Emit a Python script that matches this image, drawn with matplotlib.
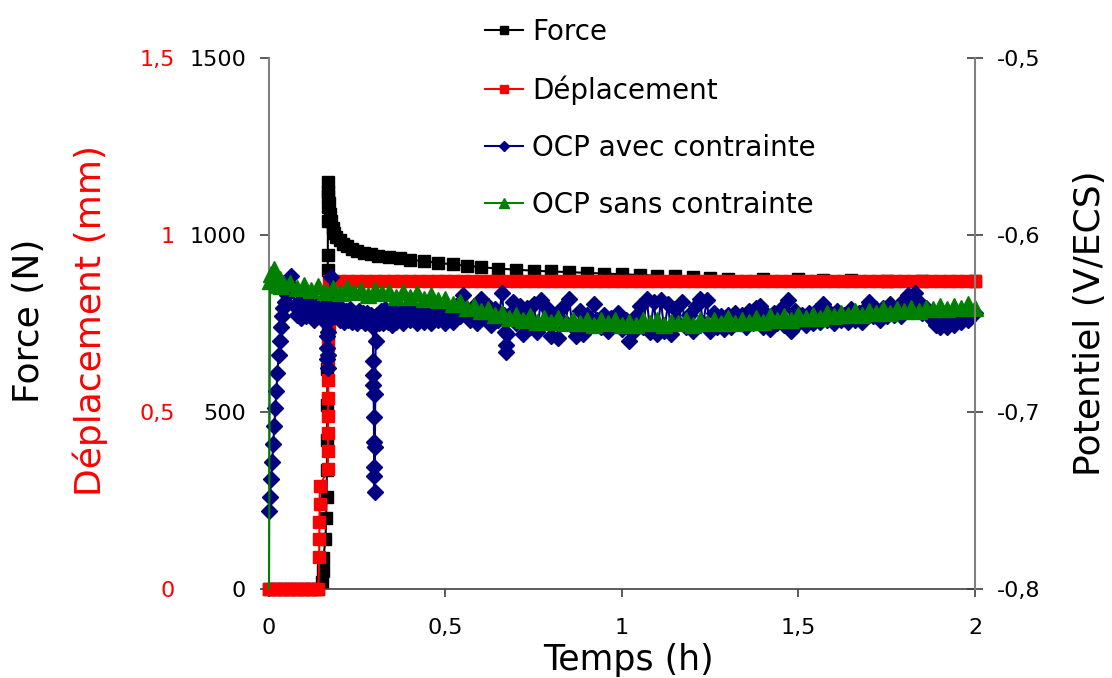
import matplotlib
matplotlib.use('Agg')
import matplotlib.pyplot as plt

# --- data ---
# Force (N) vs time (h)
force_t = [0.00, 0.02, 0.04, 0.06, 0.08, 0.10, 0.12, 0.14, 0.150, 0.152, 0.154,
           0.160, 0.162, 0.163, 0.164, 0.1645, 0.165, 0.1655, 0.166, 0.1662, 0.1664,
           0.1666, 0.1668, 0.167, 0.1672, 0.1674, 0.168, 0.170, 0.172, 0.175, 0.180,
           0.185, 0.19, 0.20, 0.21, 0.22, 0.235, 0.25, 0.27, 0.29, 0.31, 0.34, 0.37,
           0.40, 0.44, 0.48, 0.52, 0.56, 0.60, 0.65, 0.70, 0.75, 0.80, 0.85, 0.90,
           0.95, 1.00, 1.05, 1.10, 1.15, 1.20, 1.25, 1.30, 1.40, 1.50, 1.57, 1.65,
           1.75, 1.85, 2.00]
force_n = [0, 0, 0, 0, 0, 0, 0, 0, 20, 50, 88,
           140, 200, 260, 336, 420, 520, 620, 720, 820, 900,
           943, 1040, 1080, 1110, 1150, 1120, 1090, 1060, 1040, 1020,
           1005, 995, 985, 975, 968, 960, 955, 950, 946, 942, 938, 934,
           930, 926, 921, 917, 913, 909, 905, 902, 899, 897, 895, 893,
           891, 889, 887, 885, 883, 881, 879, 877, 876, 875, 874, 872,
           871, 871, 870]

# Displacement (mm) vs time (h)
depl_t = [0.00, 0.01, 0.02, 0.03, 0.04, 0.05, 0.06, 0.07, 0.08, 0.09, 0.10,
          0.11, 0.12, 0.13, 0.14, 0.142, 0.1425, 0.143, 0.1435, 0.144,
          0.167, 0.1672, 0.1674, 0.1676, 0.1678, 0.168, 0.1682, 0.1684, 0.1686,
          0.1688, 0.169, 0.1692,
          0.175, 0.200, 0.225, 0.250, 0.275, 0.300, 0.325, 0.350, 0.375, 0.400,
          0.425, 0.450, 0.475, 0.500, 0.525, 0.550, 0.575, 0.600, 0.625, 0.650,
          0.675, 0.700, 0.725, 0.750, 0.775, 0.800, 0.825, 0.850, 0.875, 0.900,
          0.925, 0.950, 0.975, 1.000, 1.025, 1.050, 1.075, 1.100, 1.125, 1.150,
          1.175, 1.200, 1.225, 1.250, 1.275, 1.300, 1.325, 1.350, 1.375, 1.400,
          1.425, 1.450, 1.475, 1.500, 1.525, 1.550, 1.575, 1.600, 1.625, 1.650,
          1.675, 1.700, 1.725, 1.750, 1.775, 1.800, 1.825, 1.850, 1.875, 1.900,
          1.925, 1.950, 1.975, 2.000]
depl_mm = [0, 0, 0, 0, 0, 0, 0, 0, 0, 0, 0,
           0, 0, 0, 0, 0.09, 0.14, 0.19, 0.24, 0.29,
           0.34, 0.39, 0.44, 0.49, 0.54, 0.59, 0.64, 0.69, 0.74,
           0.79, 0.84, 0.87,
           0.87, 0.87, 0.87, 0.87, 0.87, 0.87, 0.87, 0.87, 0.87, 0.87,
           0.87, 0.87, 0.87, 0.87, 0.87, 0.87, 0.87, 0.87, 0.87, 0.87,
           0.87, 0.87, 0.87, 0.87, 0.87, 0.87, 0.87, 0.87, 0.87, 0.87,
           0.87, 0.87, 0.87, 0.87, 0.87, 0.87, 0.87, 0.87, 0.87, 0.87,
           0.87, 0.87, 0.87, 0.87, 0.87, 0.87, 0.87, 0.87, 0.87, 0.87,
           0.87, 0.87, 0.87, 0.87, 0.87, 0.87, 0.87, 0.87, 0.87, 0.87,
           0.87, 0.87, 0.87, 0.87, 0.87, 0.87, 0.87, 0.87, 0.87, 0.87,
           0.87, 0.87, 0.87, 0.87]

# OCP avec contrainte (V/ECS)
ocp_avec_t = [0.000, 0.003, 0.006, 0.009, 0.012, 0.015, 0.018, 0.021, 0.024, 0.027,
              0.030, 0.033, 0.036, 0.040, 0.045, 0.050, 0.056, 0.062, 0.068, 0.074,
              0.080, 0.086, 0.092, 0.098, 0.104, 0.110, 0.116, 0.122, 0.128, 0.134,
              0.140, 0.146, 0.152, 0.158, 0.162, 0.163, 0.164, 0.165, 0.166, 0.167,
              0.168, 0.170, 0.176, 0.182, 0.188, 0.194, 0.200, 0.206, 0.212, 0.218,
              0.224, 0.230, 0.236, 0.242, 0.248, 0.254, 0.260, 0.266, 0.272, 0.278,
              0.284, 0.290, 0.294, 0.295, 0.2955, 0.296, 0.2965, 0.297, 0.2975, 0.298,
              0.2985, 0.299, 0.300, 0.301, 0.302, 0.306, 0.312, 0.318, 0.324, 0.330,
              0.336, 0.342, 0.348, 0.354, 0.360, 0.370, 0.380, 0.390, 0.400, 0.410,
              0.420, 0.430, 0.440, 0.450, 0.460, 0.470, 0.480, 0.490, 0.500, 0.510,
              0.520, 0.530, 0.540, 0.550, 0.560, 0.570, 0.580, 0.590, 0.600, 0.610,
              0.620, 0.630, 0.640, 0.650, 0.660, 0.665, 0.668, 0.670, 0.672, 0.675,
              0.680, 0.690, 0.700, 0.710, 0.720, 0.730, 0.740, 0.750, 0.760, 0.770,
              0.780, 0.790, 0.800, 0.810, 0.820, 0.830, 0.840, 0.850, 0.860, 0.870,
              0.880, 0.890, 0.900, 0.910, 0.920, 0.930, 0.940, 0.950, 0.960, 0.970,
              0.980, 0.990, 1.000, 1.010, 1.020, 1.030, 1.040, 1.050, 1.060, 1.070,
              1.080, 1.090, 1.100, 1.110, 1.120, 1.130, 1.140, 1.150, 1.160, 1.170,
              1.180, 1.190, 1.200, 1.210, 1.220, 1.230, 1.240, 1.250, 1.260, 1.270,
              1.280, 1.290, 1.300, 1.310, 1.320, 1.330, 1.340, 1.350, 1.360, 1.370,
              1.380, 1.390, 1.400, 1.410, 1.420, 1.430, 1.440, 1.450, 1.460, 1.470,
              1.480, 1.490, 1.500, 1.510, 1.520, 1.530, 1.540, 1.550, 1.560, 1.570,
              1.580, 1.590, 1.600, 1.610, 1.620, 1.630, 1.640, 1.650, 1.660, 1.670,
              1.680, 1.690, 1.700, 1.710, 1.720, 1.730, 1.740, 1.750, 1.760, 1.770,
              1.780, 1.790, 1.800, 1.810, 1.820, 1.830, 1.840, 1.850, 1.860, 1.870,
              1.880, 1.890, 1.900, 1.910, 1.920, 1.930, 1.940, 1.950, 1.960, 1.970,
              1.980, 1.990, 2.000]
ocp_avec_v = [-0.756, -0.748, -0.738, -0.728, -0.718, -0.708, -0.698, -0.688, -0.678, -0.668,
              -0.660, -0.652, -0.646, -0.641, -0.638, -0.634, -0.628, -0.623, -0.630, -0.640,
              -0.645, -0.638, -0.647, -0.640, -0.646, -0.638, -0.645, -0.641, -0.648, -0.640,
              -0.646, -0.642, -0.647, -0.641, -0.650, -0.657, -0.664, -0.670, -0.675, -0.668,
              -0.655, -0.640, -0.624, -0.638, -0.646, -0.641, -0.648, -0.642, -0.649, -0.643,
              -0.648, -0.642, -0.649, -0.644, -0.650, -0.643, -0.648, -0.644, -0.650, -0.644,
              -0.649, -0.645, -0.652, -0.671, -0.679, -0.685, -0.690, -0.703, -0.717, -0.731,
              -0.736, -0.745, -0.720, -0.690, -0.660, -0.645, -0.650, -0.643, -0.650, -0.642,
              -0.649, -0.644, -0.651, -0.643, -0.649, -0.644, -0.650, -0.642, -0.648, -0.643,
              -0.650, -0.644, -0.649, -0.642, -0.650, -0.641, -0.648, -0.645, -0.650, -0.642,
              -0.649, -0.640, -0.646, -0.634, -0.645, -0.648, -0.640, -0.650, -0.636, -0.646,
              -0.640, -0.651, -0.642, -0.648, -0.633, -0.645, -0.655, -0.662, -0.666, -0.656,
              -0.645, -0.638, -0.650, -0.640, -0.656, -0.641, -0.652, -0.639, -0.655, -0.637,
              -0.650, -0.642, -0.657, -0.645, -0.658, -0.641, -0.650, -0.636, -0.652, -0.657,
              -0.643, -0.656, -0.645, -0.651, -0.639, -0.648, -0.652, -0.645, -0.654, -0.647,
              -0.651, -0.644, -0.653, -0.648, -0.660, -0.655, -0.646, -0.640, -0.652, -0.636,
              -0.655, -0.638, -0.656, -0.637, -0.654, -0.639, -0.656, -0.642, -0.650, -0.638,
              -0.652, -0.645, -0.654, -0.640, -0.636, -0.650, -0.637, -0.654, -0.644, -0.652,
              -0.646, -0.653, -0.645, -0.652, -0.644, -0.650, -0.645, -0.652, -0.643, -0.650,
              -0.641, -0.640, -0.652, -0.645, -0.653, -0.644, -0.650, -0.642, -0.651, -0.637,
              -0.654, -0.643, -0.650, -0.645, -0.651, -0.644, -0.650, -0.643, -0.649, -0.639,
              -0.648, -0.644, -0.650, -0.643, -0.648, -0.645, -0.649, -0.642, -0.648, -0.644,
              -0.649, -0.641, -0.638, -0.646, -0.642, -0.648, -0.641, -0.646, -0.639, -0.645,
              -0.641, -0.646, -0.637, -0.634, -0.640, -0.633, -0.638, -0.644, -0.641, -0.646,
              -0.648, -0.651, -0.652, -0.650, -0.652, -0.649, -0.651, -0.647, -0.649, -0.646,
              -0.648, -0.645, -0.644]

# OCP sans contrainte (V/ECS)
ocp_sans_t = [0.000, 0.003, 0.006, 0.010, 0.014, 0.018, 0.022, 0.026, 0.030, 0.035, 0.040,
              0.06, 0.08, 0.10, 0.12, 0.14, 0.16, 0.18, 0.20, 0.22, 0.24, 0.26, 0.28,
              0.30, 0.32, 0.34, 0.36, 0.38, 0.40, 0.42, 0.44, 0.46, 0.48, 0.50, 0.52,
              0.54, 0.56, 0.58, 0.60, 0.62, 0.64, 0.66, 0.68, 0.70, 0.72, 0.74, 0.76,
              0.78, 0.80, 0.82, 0.84, 0.86, 0.88, 0.90, 0.92, 0.94, 0.96, 0.98, 1.00,
              1.02, 1.04, 1.06, 1.08, 1.10, 1.12, 1.14, 1.16, 1.18, 1.20, 1.22, 1.24,
              1.26, 1.28, 1.30, 1.32, 1.34, 1.36, 1.38, 1.40, 1.42, 1.44, 1.46, 1.48,
              1.50, 1.52, 1.54, 1.56, 1.58, 1.60, 1.62, 1.64, 1.66, 1.68, 1.70, 1.72,
              1.74, 1.76, 1.78, 1.80, 1.82, 1.84, 1.86, 1.88, 1.90, 1.92, 1.94, 1.96,
              1.98, 2.00]
ocp_sans_v = [-0.800, -0.626, -0.622, -0.624, -0.619, -0.623, -0.626, -0.628, -0.625, -0.629, -0.627,
              -0.627, -0.630, -0.628, -0.631, -0.629, -0.632, -0.630, -0.633, -0.630, -0.632, -0.631, -0.634,
              -0.631, -0.633, -0.632, -0.635, -0.632, -0.635, -0.633, -0.636, -0.634, -0.637, -0.636, -0.639,
              -0.638, -0.641, -0.640, -0.643, -0.642, -0.645, -0.644, -0.647, -0.645, -0.648, -0.646, -0.649,
              -0.647, -0.649, -0.647, -0.650, -0.648, -0.650, -0.648, -0.651, -0.648, -0.650, -0.648, -0.651,
              -0.649, -0.651, -0.648, -0.650, -0.648, -0.651, -0.649, -0.650, -0.648, -0.651, -0.648, -0.650,
              -0.648, -0.650, -0.647, -0.650, -0.648, -0.649, -0.647, -0.649, -0.646, -0.648, -0.646, -0.648,
              -0.645, -0.647, -0.645, -0.647, -0.644, -0.646, -0.644, -0.645, -0.643, -0.645, -0.643, -0.644,
              -0.642, -0.644, -0.642, -0.643, -0.641, -0.643, -0.641, -0.642, -0.640, -0.642, -0.640, -0.641,
              -0.639, -0.641]

x_ticks = [0, 0.5, 1, 1.5, 2]
x_labels = ['0', '0,5', '1', '1,5', '2']
force_ticks = [0, 500, 1000, 1500]
depl_ticks = [0, 0.5, 1, 1.5]
depl_labels = ['0', '0,5', '1', '1,5']
pot_ticks = [-0.8, -0.7, -0.6, -0.5]
pot_labels = ['-0,8', '-0,7', '-0,6', '-0,5']

plt.rcParams['font.family'] = ['DejaVu Sans']

fig = plt.figure(figsize=(11.12, 6.78), dpi=100)
ax = fig.add_axes([0.2419, 0.1313, 0.6349, 0.7832])
ax_d = ax.twinx()
ax_p = ax.twinx()

l1, = ax.plot(force_t, force_n, color='black', marker='s', ms=9, lw=1.5,
              clip_on=False, label='Force')
l2, = ax_d.plot(depl_t, depl_mm, color='red', marker='s', ms=9, lw=1.5,
                clip_on=False, label='Déplacement')
l3, = ax_p.plot(ocp_avec_t, ocp_avec_v, color='#000080', marker='D', ms=8, lw=1.5,
                clip_on=False, label='OCP avec contrainte')
# first point (start of the measurement) sits on the axis floor: no marker there
l4, = ax_p.plot(ocp_sans_t, ocp_sans_v, color='#008000', marker='^', ms=11, lw=1.5,
                markevery=slice(1, None), clip_on=False, label='OCP sans contrainte')

# x axis
ax.set_xlim(0, 2)
ax.set_xticks(x_ticks)
ax.set_xticklabels(x_labels)
ax.tick_params(axis='x', direction='out', length=6, width=1.2, color='#404040',
               pad=15, labelsize=16)

# force axis (left, black)
ax.set_ylim(0, 1500)
ax.set_yticks(force_ticks)
ax.tick_params(axis='y', direction='out', length=6.5, width=1.2, color='#404040',
               pad=10, labelsize=16)
ax.spines['top'].set_visible(False)
ax.spines['right'].set_visible(False)
ax.spines['left'].set_color('#808080')
ax.spines['left'].set_linewidth(1.5)
ax.spines['bottom'].set_color('#404040')
ax.spines['bottom'].set_linewidth(1.2)

# displacement axis (left, red labels only)
ax_d.set_ylim(0, 1.5)
ax_d.yaxis.set_ticks_position('left')
ax_d.set_yticks(depl_ticks)
ax_d.set_yticklabels(depl_labels)
ax_d.tick_params(axis='y', length=0, pad=68, labelcolor='red', labelsize=16,
                 left=True, right=False, labelleft=True, labelright=False)
for s in ax_d.spines.values():
    s.set_visible(False)

# potential axis (right)
ax_p.set_ylim(-0.8, -0.5)
ax_p.set_yticks(pot_ticks)
ax_p.set_yticklabels(pot_labels)
ax_p.tick_params(axis='y', direction='inout', length=12, width=1.2, color='#404040',
                 pad=10, labelsize=16)
for k in ['top', 'left', 'bottom']:
    ax_p.spines[k].set_visible(False)
ax_p.spines['right'].set_color('#808080')
ax_p.spines['right'].set_linewidth(1.5)

# axis titles
fig.text(29 / 1112, 1 - 321 / 678, 'Force (N)', rotation=90, ha='center', va='center',
         fontsize=26)
fig.text(90 / 1112, 1 - 321 / 678, 'Déplacement (mm)', rotation=90, ha='center',
         va='center', fontsize=26, color='red')
fig.text(1090 / 1112, 1 - 323 / 678, 'Potentiel (V/ECS)', rotation=90, ha='center',
         va='center', fontsize=26)
fig.text(628 / 1112, 1 - 660 / 678, 'Temps (h)', ha='center', va='center', fontsize=25)

fig.legend([l1, l2, l3, l4], [l.get_label() for l in [l1, l2, l3, l4]],
           loc='upper left', bbox_to_anchor=(485 / 1112, 1 - 18 / 678),
           frameon=False, fontsize=20, handlelength=1.35, handletextpad=0.35,
           labelspacing=1.05, borderpad=0, borderaxespad=0, markerscale=0.65)

fig.savefig('out.png', dpi=100)
